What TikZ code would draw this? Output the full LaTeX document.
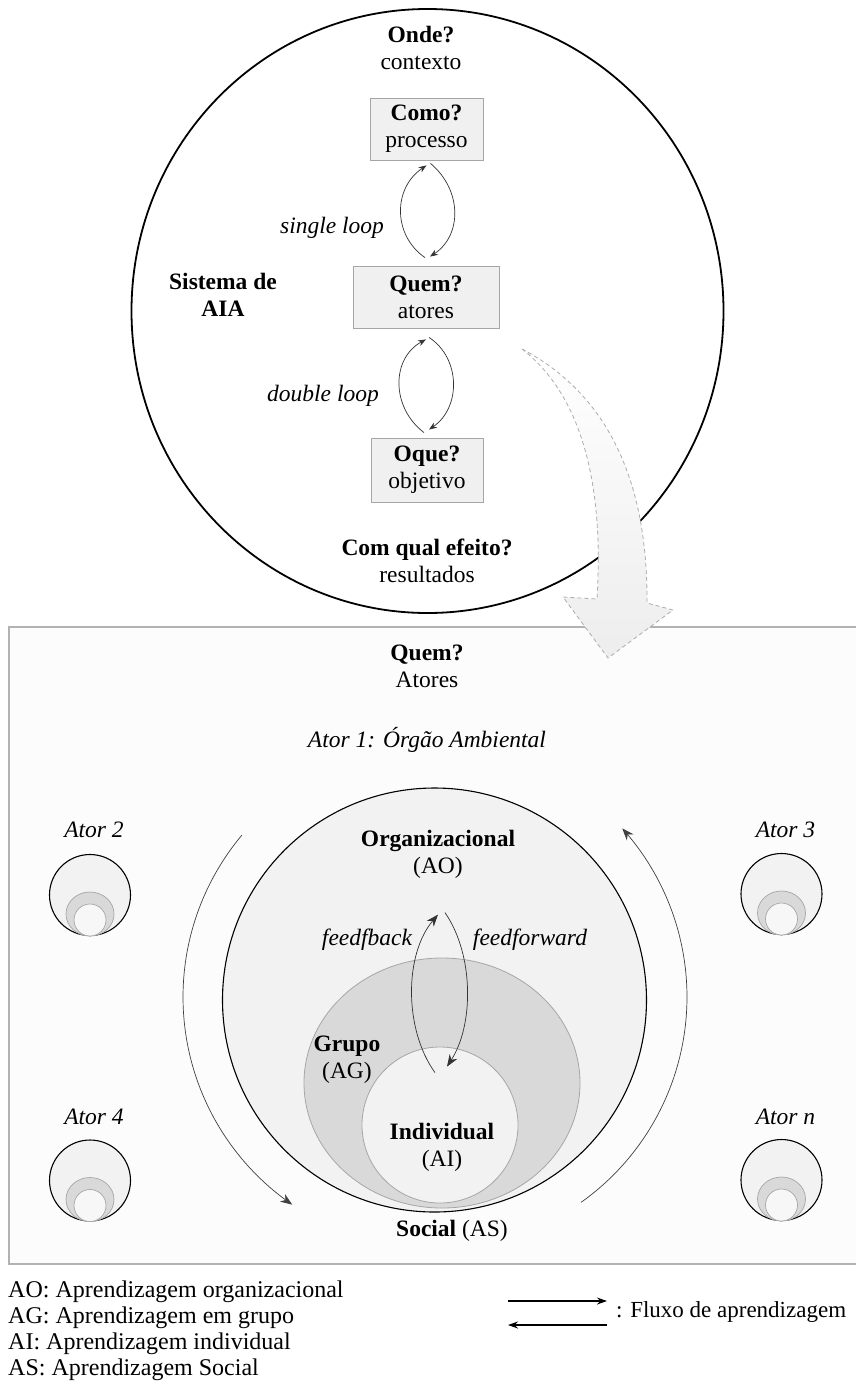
\documentclass[tikz,border=0pt]{standalone}
\usepackage{fontspec}
\setmainfont{Liberation Serif}
\usetikzlibrary{arrows.meta,calc,shapes.geometric}
\newcommand\dtxt{\fontsize{23.5}{27}\selectfont}
\newcommand\legtxt{\fontsize{24}{26}\selectfont}
\newcommand\fluxtxt{\fontsize{23}{26}\selectfont}
\begin{document}
\begin{tikzpicture}[x=1pt,y=-1pt,
  txt/.style={font=\dtxt, align=center, inner sep=0pt},
  qbox/.style={draw=gray!70, fill=gray!12, line width=0.8pt, inner sep=0pt,
    align=center, font=\dtxt},
  loopline/.style={draw=black!80, line width=0.7pt, -{Stealth[length=8pt,width=6pt]}},
  bigloop/.style={draw=black!80, line width=0.7pt, -{Stealth[length=12pt,width=9pt]}},
  socflow/.style={draw=black!75, line width=0.7pt, -{Stealth[length=12pt,width=9pt]}},
  legarrow/.style={draw=black, line width=1.2pt, -{Stealth[length=10pt,width=7pt]}},
  actorout/.style={circle, draw=black, line width=1.1pt, fill=gray!10, inner sep=0pt, minimum size=81},
  actorgrp/.style={ellipse, draw=gray!70, line width=0.7pt, fill=gray!30, inner sep=0pt,
    minimum width=48, minimum height=44},
  actorind/.style={circle, draw=gray!70, line width=0.7pt, fill=gray!6, inner sep=0pt, minimum size=32},
]
\useasboundingbox (0,0) rectangle (855,1385);
\fill[white] (0,0) rectangle (855,1385);

% ---------- upper part: the AIA system ----------
\node[ellipse, draw=black, line width=1.8pt, fill=white, inner sep=0pt,
  minimum width=592, minimum height=604] (sys) at (427.5,311) {};

\node[txt] (onde) at (421,47.5) {\textbf{Onde?}\\contexto};
\node[qbox, minimum width=113, minimum height=62] (como) at (426.5,129) {\textbf{Como?}\\processo};
\node[qbox, minimum width=146, minimum height=62] (quem) at (426,297) {\textbf{Quem?}\\atores};
\node[qbox, minimum width=112, minimum height=64] (oque) at (427,470) {\textbf{Oque?}\\objetivo};
\node[txt] (sist) at (223,294.5) {\textbf{Sistema de}\\\textbf{AIA}};
\node[txt] (efeito) at (427,561) {\textbf{Com qual efeito?}\\resultados};
\node[txt, font=\dtxt\itshape] (single) at (332,228) {single loop};
\node[txt, font=\dtxt\itshape] (double) at (323,396) {double loop};

% single loop
\draw[loopline] ($(quem.north)+(-1,-8)$) .. controls ($(quem.north)+(-33,-30)$)
  and ($(como.south)+(-34,28)$) .. ($(como.south)+(0,5)$);
\draw[loopline] ($(como.south)+(4,3)$) .. controls ($(como.south)+(36,30)$)
  and ($(quem.north)+(36,-30)$) .. ($(quem.north)+(4,-9)$);
% double loop
\draw[loopline] ($(oque.north)+(-3,-5)$) .. controls ($(oque.north)+(-36,-30)$)
  and ($(quem.south)+(-35,30)$) .. ($(quem.south)+(0,11)$);
\draw[loopline] ($(quem.south)+(3,9)$) .. controls ($(quem.south)+(35,30)$)
  and ($(oque.north)+(34,-30)$) .. ($(oque.north)+(2,-8)$);

% ---------- lower panel: the actors ----------
\draw[draw=gray!60, line width=1.2pt, fill=gray!2] (9,627) rectangle (870,1264);

\node[txt] (quemb) at (427,666.5) {\textbf{Quem?}\\Atores};
\node[txt, font=\dtxt\itshape] (ator1) at (427,740) {Ator 1: Órgão Ambiental};

\node[circle, draw=black, line width=1.1pt, fill=gray!10, inner sep=0pt,
  minimum size=424] (org) at (434.5,1000) {};
\node[ellipse, draw=gray!70, line width=0.8pt, fill=gray!30, inner sep=0pt,
  minimum width=276, minimum height=250] (grp) at (442,1083) {};
\node[circle, draw=gray!70, line width=0.8pt, fill=gray!10, inner sep=0pt,
  minimum size=156] (ind) at (440,1125) {};

\node[txt] (ao) at (438,854) {\textbf{Organizacional}\\(AO)};
\node[txt] (ag) at (347,1060) {\textbf{Grupo}\\(AG)};
\node[txt] (ai) at (442,1147) {\textbf{Individual}\\(AI)};
\node[txt] (as) at (452,1231) {\textbf{Social} (AS)};
\node[txt, font=\dtxt\itshape] (fb) at (367,940) {feedfback};
\node[txt, font=\dtxt\itshape] (ff) at (530,940) {feedforward};

% feedback / feedforward between individual and organisation
\coordinate (fbs) at ($(ind.north)+(-5,26)$);
\coordinate (fbe) at ($(ind.north)+(-2,-132)$);
\coordinate (ffs) at ($(ind.north)+(5,-134)$);
\coordinate (ffe) at ($(ind.north)+(7,20)$);
\draw[bigloop] (fbs) .. controls ($(fbs)+(-31,-43)$) and ($(fbe)+(-34,40)$) .. (fbe);
\draw[bigloop] (ffs) .. controls ($(ffs)+(29,42)$) and ($(ffe)+(27,-42)$) .. (ffe);

% social learning flow around actor 1
\coordinate (soc) at (435,997);
\begin{scope}[shift={(soc)}]
  \draw[socflow] plot[domain=220:124.5, samples=60, smooth] (\x:252);
  \draw[socflow] plot[domain=54.6:-42, samples=60, smooth] (\x:252);
\end{scope}

% other actors
\foreach \n/\px/\py/\lab/\ly in {a2/90/895/Ator 2/830, a3/781.5/894/Ator 3/830,
    a4/90/1180.5/Ator 4/1117, an/781.5/1180/Ator \textit{n}/1117} {
  \node[actorout] (\n) at (\px,\py) {};
  \node[actorgrp] (\n g) at ($(\n.center)+(0,19)$) {};
  \node[actorind] (\n i) at ($(\n.center)+(0,25)$) {};
  \node[txt, font=\dtxt\itshape] (\n l) at ($(\n.center)+(4,\ly-\py)$) {\lab};
}

% transition arrow from the system to the actors
\draw[draw=gray!65, line width=0.8pt, dash pattern=on 4pt off 3pt,
  top color=white, bottom color=gray!14]
  (522,349) .. controls (600,390) and (648,470) .. (647,603)
  -- (673,610) -- (608,658) -- (563,597) -- (597,599)
  .. controls (605,470) and (575,390) .. cycle;

% ---------- legend ----------
\node[anchor=west, inner sep=0pt, font=\legtxt] (lao) at (8,1292) {AO: Aprendizagem organizacional};
\node[anchor=west, inner sep=0pt, font=\legtxt] (lag) at (8,1318) {AG: Aprendizagem em grupo};
\node[anchor=west, inner sep=0pt, font=\legtxt] (lai) at (8,1344) {AI: Aprendizagem individual};
\node[anchor=west, inner sep=0pt, font=\legtxt] (las) at (8,1370) {AS: Aprendizagem Social};

\coordinate (r1) at (508,1301);
\coordinate (r2) at (607,1301);
\coordinate (l1) at (508,1325);
\coordinate (l2) at (607,1325);
\draw[legarrow] (r1) -- (r2);
\draw[legarrow] (l2) -- (l1);
\node[anchor=west, inner sep=0pt, font=\fluxtxt] (flux) at (616,1312) {: Fluxo de aprendizagem};
\end{tikzpicture}
\end{document}
